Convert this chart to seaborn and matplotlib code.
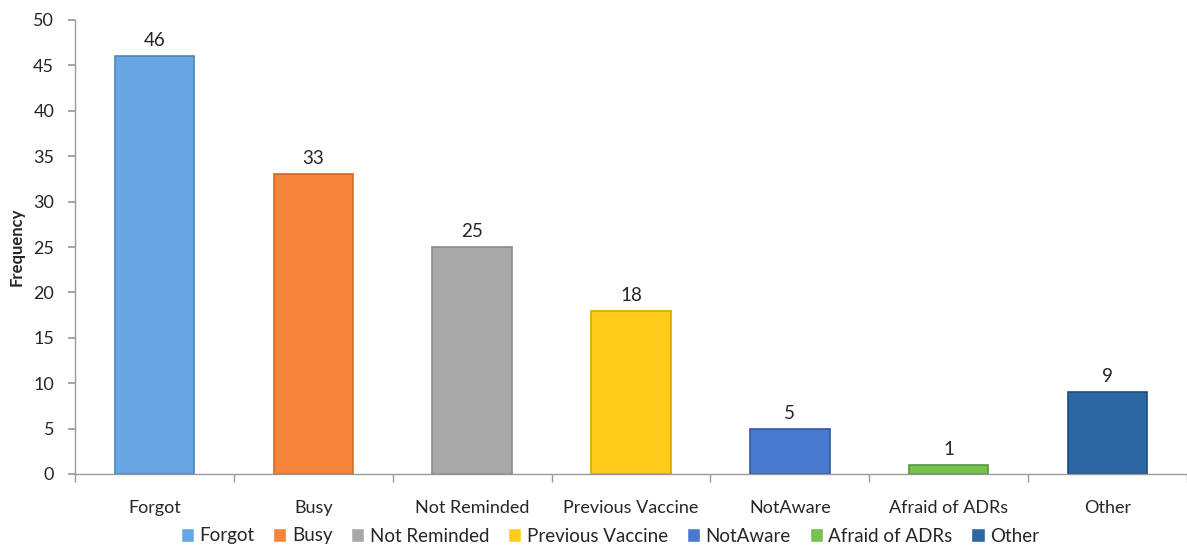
import matplotlib
matplotlib.use("Agg")
import matplotlib.pyplot as plt
import seaborn as sns
import pandas as pd
import numpy as np

categories = ["Forgot", "Busy", "Not Reminded", "Previous Vaccine", "NotAware", "Afraid of ADRs", "Other"]
values = [46, 33, 25, 18, 5, 1, 9]
colors = ["#68A5E3", "#F5853A", "#A8A8A8", "#FFCC1A", "#4A79D0", "#78C050", "#2C67A3"]
edges = ["#4A86C0", "#D06A25", "#8A8A8A", "#D9A800", "#33589E", "#58963A", "#1E4C7C"]

sns.set_theme(style="white")
plt.rcParams['font.family'] = ['Lato', 'DejaVu Sans']

df = pd.DataFrame({"cat": categories, "val": values})
fig = plt.figure(figsize=(11.87, 5.47), dpi=100)
ax = fig.add_axes([75/1187, 1-474/547, (1187-75)/1187, (474-20)/547])
sns.barplot(data=df, x="cat", y="val", hue="cat", palette=colors, dodge=False,
            width=0.5, ax=ax, legend=True, saturation=1)
for p, ec in zip(ax.patches, edges):
    p.set_edgecolor(ec)
    p.set_linewidth(1.2)
for c in ax.containers:
    ax.bar_label(c, padding=5, fontsize=13.5)

ax.set_ylim(0, 50)
ax.set_xlim(-0.5, 6.45)
ax.set_yticks(range(0, 51, 5))
ax.set_xlabel("")
ax.set_ylabel("Frequency", fontsize=12, fontweight="bold")
ax.yaxis.set_label_coords(-0.045, 0.5)
ax.tick_params(axis="y", labelsize=13, left=True, length=5, color="#999999", pad=10)
ax.tick_params(axis="x", labelsize=13, bottom=False, pad=13)
ax.set_xticks(np.arange(-0.5, 6.6, 1), minor=True)
ax.tick_params(axis="x", which="minor", bottom=True, length=6, color="#999999")
for s in ["top", "right"]:
    ax.spines[s].set_visible(False)
for s in ["left", "bottom"]:
    ax.spines[s].set_color("#999999")
    ax.spines[s].set_linewidth(1)

handles, labels = ax.get_legend_handles_labels()
ax.legend_.remove()
fig.legend(handles, labels, loc="center", bbox_to_anchor=(610/1187, 1-536/547), ncol=7, frameon=False,
           fontsize=13.5, handlelength=0.7, handleheight=0.7, handletextpad=0.3,
           columnspacing=1.0, borderaxespad=0, borderpad=0)
fig.savefig("out.png", dpi=100)
